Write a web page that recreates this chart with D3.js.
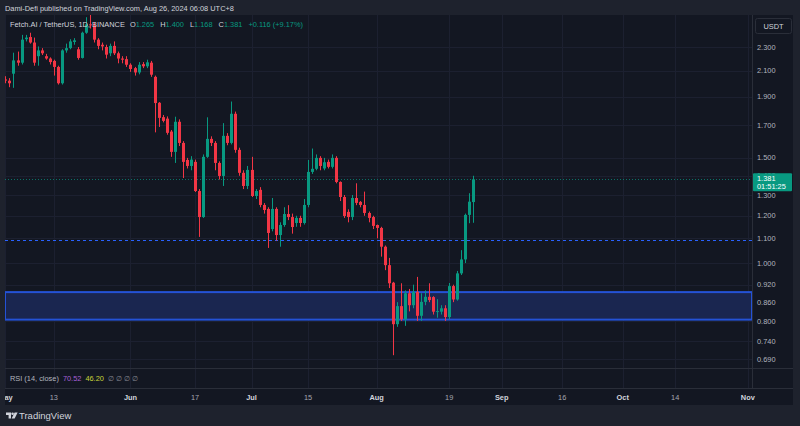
<!DOCTYPE html>
<html>
<head>
<meta charset="utf-8">
<script src="https://cdn.jsdelivr.net/npm/d3@7"></script>
<style>
  html, body { margin: 0; padding: 0; background: #1e222d; }
  svg { display: block; font-family: "Liberation Sans", Arial, sans-serif; }
</style>
</head>
<body>
<svg id="chart" width="800" height="426"></svg>
<script>
// daily candles, May 1 -> Aug 25 2024 (last one is the live candle)
const days = d3.utcDay.range(new Date(Date.UTC(2024, 4, 1)), new Date(Date.UTC(2024, 7, 26)));

const open = [2.030, 2.020, 2.075, 2.184, 2.165, 2.370, 2.390, 2.340, 2.220, 2.270,
  2.220, 2.200, 2.180, 2.130, 2.000, 2.270, 2.290, 2.345, 2.280, 2.205,
  2.430, 2.510, 2.500, 2.366, 2.320, 2.300, 2.245, 2.310, 2.245, 2.200,
  2.195, 2.148, 2.120, 2.085, 2.153, 2.135, 2.165, 2.050, 1.855, 1.755,
  1.745, 1.660, 1.535, 1.724, 1.589, 1.488, 1.454, 1.477, 1.320, 1.194,
  1.506, 1.614, 1.589, 1.471, 1.399, 1.633, 1.589, 1.778, 1.547, 1.416,
  1.346, 1.432, 1.295, 1.326, 1.251, 1.232, 1.140, 1.232, 1.114, 1.158,
  1.208, 1.194, 1.167, 1.190, 1.167, 1.251, 1.421, 1.438, 1.500, 1.440,
  1.477, 1.449, 1.500, 1.367, 1.290, 1.218, 1.194, 1.285, 1.266, 1.251,
  1.213, 1.194, 1.158, 1.145, 1.065, 0.992, 0.927, 0.790, 0.847, 0.805,
  0.890, 0.850, 0.895, 0.816, 0.861, 0.878, 0.877, 0.829, 0.829, 0.840,
  0.812, 0.915, 0.869, 0.961, 1.014, 1.204, 1.265];
const high = [2.055, 2.040, 2.250, 2.260, 2.410, 2.410, 2.430, 2.385, 2.305, 2.290,
  2.240, 2.210, 2.190, 2.140, 2.280, 2.330, 2.370, 2.380, 2.300, 2.440,
  2.580, 2.620, 2.530, 2.380, 2.340, 2.320, 2.330, 2.350, 2.260, 2.220,
  2.220, 2.160, 2.130, 2.170, 2.170, 2.190, 2.180, 2.060, 1.860, 1.770,
  1.760, 1.670, 1.758, 1.740, 1.600, 1.500, 1.510, 1.490, 1.330, 1.520,
  1.754, 1.630, 1.600, 1.480, 1.715, 1.650, 1.864, 1.793, 1.560, 1.430,
  1.454, 1.506, 1.330, 1.340, 1.260, 1.240, 1.285, 1.240, 1.170, 1.240,
  1.250, 1.210, 1.200, 1.200, 1.280, 1.488, 1.555, 1.520, 1.510, 1.500,
  1.490, 1.520, 1.510, 1.370, 1.300, 1.230, 1.300, 1.360, 1.270, 1.317,
  1.220, 1.200, 1.160, 1.150, 1.070, 1.020, 0.930, 0.860, 0.925, 0.900,
  0.905, 0.920, 0.948, 0.890, 0.900, 0.925, 0.880, 0.870, 0.850, 0.850,
  0.926, 0.920, 0.970, 1.051, 1.210, 1.309, 1.400];
const low = [2.000, 1.970, 1.965, 2.140, 2.150, 2.350, 2.330, 2.140, 2.140, 2.230,
  2.190, 2.150, 2.060, 1.990, 1.990, 2.250, 2.280, 2.320, 2.190, 2.200,
  2.420, 2.470, 2.340, 2.280, 2.270, 2.200, 2.220, 2.230, 2.160, 2.160,
  2.130, 2.090, 2.060, 2.070, 2.120, 2.120, 2.050, 1.655, 1.690, 1.720,
  1.640, 1.506, 1.471, 1.570, 1.388, 1.440, 1.430, 1.315, 1.106, 1.190,
  1.500, 1.570, 1.430, 1.380, 1.346, 1.575, 1.580, 1.530, 1.400, 1.330,
  1.330, 1.290, 1.280, 1.240, 1.210, 1.060, 1.130, 1.090, 1.065, 1.150,
  1.180, 1.120, 1.150, 1.150, 1.160, 1.240, 1.410, 1.430, 1.430, 1.430,
  1.440, 1.440, 1.360, 1.270, 1.190, 1.170, 1.180, 1.250, 1.240, 1.200,
  1.170, 1.140, 1.100, 1.025, 0.973, 0.908, 0.701, 0.782, 0.800, 0.785,
  0.830, 0.840, 0.800, 0.800, 0.850, 0.860, 0.820, 0.810, 0.820, 0.800,
  0.805, 0.860, 0.865, 0.955, 1.000, 1.166, 1.168];
const close = [2.020, 2.000, 2.184, 2.165, 2.366, 2.385, 2.340, 2.165, 2.270, 2.245,
  2.200, 2.170, 2.130, 2.000, 2.270, 2.290, 2.350, 2.360, 2.205, 2.430,
  2.510, 2.500, 2.366, 2.310, 2.305, 2.233, 2.310, 2.245, 2.200, 2.190,
  2.148, 2.113, 2.085, 2.148, 2.135, 2.168, 2.067, 1.853, 1.750, 1.730,
  1.652, 1.535, 1.724, 1.589, 1.477, 1.454, 1.490, 1.320, 1.194, 1.506,
  1.614, 1.589, 1.471, 1.399, 1.633, 1.589, 1.778, 1.547, 1.416, 1.346,
  1.432, 1.295, 1.320, 1.251, 1.227, 1.123, 1.232, 1.114, 1.158, 1.208,
  1.194, 1.149, 1.190, 1.167, 1.251, 1.421, 1.438, 1.500, 1.454, 1.475,
  1.449, 1.500, 1.367, 1.290, 1.199, 1.194, 1.285, 1.261, 1.251, 1.213,
  1.190, 1.154, 1.145, 1.065, 0.992, 0.925, 0.790, 0.847, 0.805, 0.890,
  0.850, 0.895, 0.816, 0.861, 0.878, 0.867, 0.829, 0.831, 0.840, 0.812,
  0.915, 0.869, 0.961, 1.014, 1.204, 1.267, 1.381];

const priceTicks = [2.3, 2.1, 1.9, 1.7, 1.5, 1.4, 1.3, 1.2, 1.1, 1.0, 0.92, 0.86, 0.8, 0.74, 0.69];
const timeTickDates = ["2024-05-01", "2024-05-13", "2024-06-01", "2024-06-17", "2024-07-01", "2024-07-15",
  "2024-08-01", "2024-08-19", "2024-09-01", "2024-09-16", "2024-10-01", "2024-10-14", "2024-11-01"];
const timeTickLabels = ["May", "13", "Jun", "17", "Jul", "15", "Aug", "19", "Sep", "16", "Oct", "14", "Nov"];

// drawn levels
const zoneTop = 0.894, zoneBottom = 0.804;
const supportLevel = 1.093;
const lastPrice = 1.381;

const UP = "#089981", DOWN = "#f23645";
const paneL = 5, paneR = 752, axisR = 793;
const mainTop = 15, mainBottom = 368, rsiBottom = 388, timeBottom = 405;

const svg = d3.select("#chart");

const x = d3.scaleUtc()
  .domain([new Date(Date.UTC(2024, 4, 1)), new Date(Date.UTC(2024, 10, 1))])
  .range([5.4, 747.8]);
const y = d3.scaleLog().domain([0.69, 2.3]).range([359.3, 47]);

// frame + panes
svg.append("rect").attr("width", 800).attr("height", 426).attr("fill", "#1e222d");
svg.append("rect").attr("x", paneL).attr("y", mainTop)
  .attr("width", axisR - paneL).attr("height", timeBottom - mainTop).attr("fill", "#131722");

const defs = svg.append("defs");
defs.append("clipPath").attr("id", "mainClip").append("rect")
  .attr("x", paneL).attr("y", mainTop).attr("width", paneR - paneL).attr("height", mainBottom - mainTop);
defs.append("clipPath").attr("id", "timeClip").append("rect")
  .attr("x", paneL).attr("y", rsiBottom).attr("width", axisR - paneL).attr("height", timeBottom - rsiBottom);

const tickDates = timeTickDates.map(d => new Date(d + "T00:00:00Z"));

// grid
const grid = svg.append("g").attr("stroke", "#1c2030").attr("stroke-width", 1);
grid.selectAll("line.h").data(priceTicks).join("line")
  .attr("x1", paneL).attr("x2", paneR)
  .attr("y1", d => Math.round(y(d)) + 0.5).attr("y2", d => Math.round(y(d)) + 0.5);
grid.selectAll("line.v").data(tickDates).join("line")
  .attr("x1", d => Math.round(x(d)) + 0.5).attr("x2", d => Math.round(x(d)) + 0.5)
  .attr("y1", mainTop).attr("y2", rsiBottom);

const main = svg.append("g").attr("clip-path", "url(#mainClip)");

// demand zone
main.append("rect")
  .attr("x", paneL).attr("width", paneR - paneL)
  .attr("y", y(zoneTop)).attr("height", y(zoneBottom) - y(zoneTop))
  .attr("fill", "#1a2650").attr("stroke", "#2452d6").attr("stroke-width", 2);

// dashed support line
main.append("line")
  .attr("x1", paneL).attr("x2", paneR)
  .attr("y1", Math.round(y(supportLevel)) + 0.5).attr("y2", Math.round(y(supportLevel)) + 0.5)
  .attr("stroke", "#2962ff").attr("stroke-width", 1).attr("stroke-dasharray", "3,3");

// last price line
main.append("line")
  .attr("x1", paneL).attr("x2", paneR)
  .attr("y1", Math.round(y(lastPrice)) + 0.5).attr("y2", Math.round(y(lastPrice)) + 0.5)
  .attr("stroke", UP).attr("stroke-opacity", 0.7).attr("stroke-width", 1).attr("stroke-dasharray", "1,2");

// candles
const candles = days.map((d, i) => ({ date: d, o: open[i], h: high[i], l: low[i], c: close[i] }));
const cg = main.append("g").selectAll("g").data(candles).join("g");
cg.append("line")
  .attr("x1", d => Math.round(x(d.date)) + 0.5).attr("x2", d => Math.round(x(d.date)) + 0.5)
  .attr("y1", d => y(d.h)).attr("y2", d => y(d.l))
  .attr("stroke", d => d.c >= d.o ? UP : DOWN);
cg.append("rect")
  .attr("x", d => Math.round(x(d.date)) - 1)
  .attr("width", 3)
  .attr("y", d => y(Math.max(d.o, d.c)))
  .attr("height", d => Math.max(1, Math.abs(y(d.o) - y(d.c))))
  .attr("fill", d => d.c >= d.o ? UP : DOWN);

// pane separators
const sep = svg.append("g").attr("stroke", "#2a2e39").attr("stroke-width", 1);
sep.append("line").attr("x1", paneL).attr("x2", axisR).attr("y1", mainBottom + 0.5).attr("y2", mainBottom + 0.5);
sep.append("line").attr("x1", paneL).attr("x2", axisR).attr("y1", rsiBottom + 0.5).attr("y2", rsiBottom + 0.5);
sep.append("line").attr("x1", paneR + 0.5).attr("x2", paneR + 0.5).attr("y1", mainTop).attr("y2", rsiBottom);

// price axis (the 1.400 label sits behind the last-price tag, as in TradingView)
svg.append("g").selectAll("text").data(priceTicks).join("text")
  .attr("x", 757).attr("y", d => y(d)).attr("dy", "0.35em")
  .attr("fill", "#b2b5be").attr("font-size", 7.4)
  .text(d => d3.format(".3f")(d));

svg.append("rect").attr("x", 755.5).attr("y", 18.5).attr("width", 36).attr("height", 15).attr("rx", 2)
  .attr("fill", "#131722").attr("stroke", "#2a2e39");
svg.append("text").attr("x", 773.5).attr("y", 26).attr("dy", "0.35em").attr("text-anchor", "middle")
  .attr("fill", "#d1d4dc").attr("font-size", 7.4).text("USDT");

// last price tag
const tagY = y(lastPrice);
svg.append("rect").attr("x", paneR + 1).attr("y", tagY - 6).attr("width", 39).attr("height", 18)
  .attr("rx", 1).attr("fill", UP);
svg.append("text").attr("x", 757).attr("y", tagY - 1).attr("dy", "0.35em")
  .attr("fill", "#ffffff").attr("font-size", 7.4).text(d3.format(".3f")(lastPrice));
svg.append("text").attr("x", 757).attr("y", tagY + 7).attr("dy", "0.35em")
  .attr("fill", "#ffffff").attr("font-size", 7.4).text("01:51:25");

// time axis
svg.append("g").attr("clip-path", "url(#timeClip)")
  .selectAll("text").data(tickDates).join("text")
  .attr("x", d => x(d)).attr("y", 397.5).attr("dy", "0.35em").attr("text-anchor", "middle")
  .attr("font-size", 7.4)
  .attr("font-weight", (d, i) => /^[A-Z]/.test(timeTickLabels[i]) ? "bold" : "normal")
  .attr("fill", (d, i) => /^[A-Z]/.test(timeTickLabels[i]) ? "#d1d4dc" : "#a3a6af")
  .text((d, i) => timeTickLabels[i]);

// header
svg.append("text").attr("x", 5).attr("y", 8).attr("dy", "0.35em")
  .attr("fill", "#d1d4dc").attr("font-size", 7.4)
  .text("Dami-Defi published on TradingView.com, Aug 26, 2024 06:08 UTC+8");

// legend
const leg = svg.append("text").attr("x", 10).attr("y", 24.5).attr("dy", "0.35em").attr("font-size", 7.4);
leg.append("tspan").attr("fill", "#d1d4dc").text("Fetch.AI / TetherUS, 1D, BINANCE");
const ohlc = [["O", open], ["H", high], ["L", low], ["C", close]];
ohlc.forEach(([k, arr], j) => {
  leg.append("tspan").attr("dx", j === 0 ? 5 : 6).attr("fill", "#d1d4dc").text(k);
  leg.append("tspan").attr("fill", UP).text(d3.format(".3f")(arr[arr.length - 1]));
});
leg.append("tspan").attr("dx", 6).attr("fill", UP).text("+0.116 (+9.17%)");

// RSI legend
const rsi = svg.append("text").attr("x", 10).attr("y", 378.5).attr("dy", "0.35em").attr("font-size", 7.4);
rsi.append("tspan").attr("fill", "#b2b5be").text("RSI (14, close)");
rsi.append("tspan").attr("dx", 4).attr("fill", "#a760d6").text("70.52");
rsi.append("tspan").attr("dx", 4).attr("fill", "#c8d43a").text("46.20");
rsi.append("tspan").attr("dx", 4).attr("fill", "#868993").text("\u2205 \u2205 \u2205 \u2205");

// bottom logo
const logo = svg.append("g").attr("fill", "#d1d4dc").attr("transform", "translate(6,412.5)");
logo.append("path").attr("d", "M0,0 H5 V6 H2.6 V2.4 H0 Z");
logo.append("circle").attr("cx", 6.6).attr("cy", 1.3).attr("r", 1.3);
logo.append("path").attr("d", "M8.6,0 H11.6 L8.6,6 H5.6 Z");
svg.append("text").attr("x", 19).attr("y", 415.5).attr("dy", "0.35em")
  .attr("fill", "#d1d4dc").attr("font-size", 9.5).text("TradingView");
</script>
</body>
</html>
